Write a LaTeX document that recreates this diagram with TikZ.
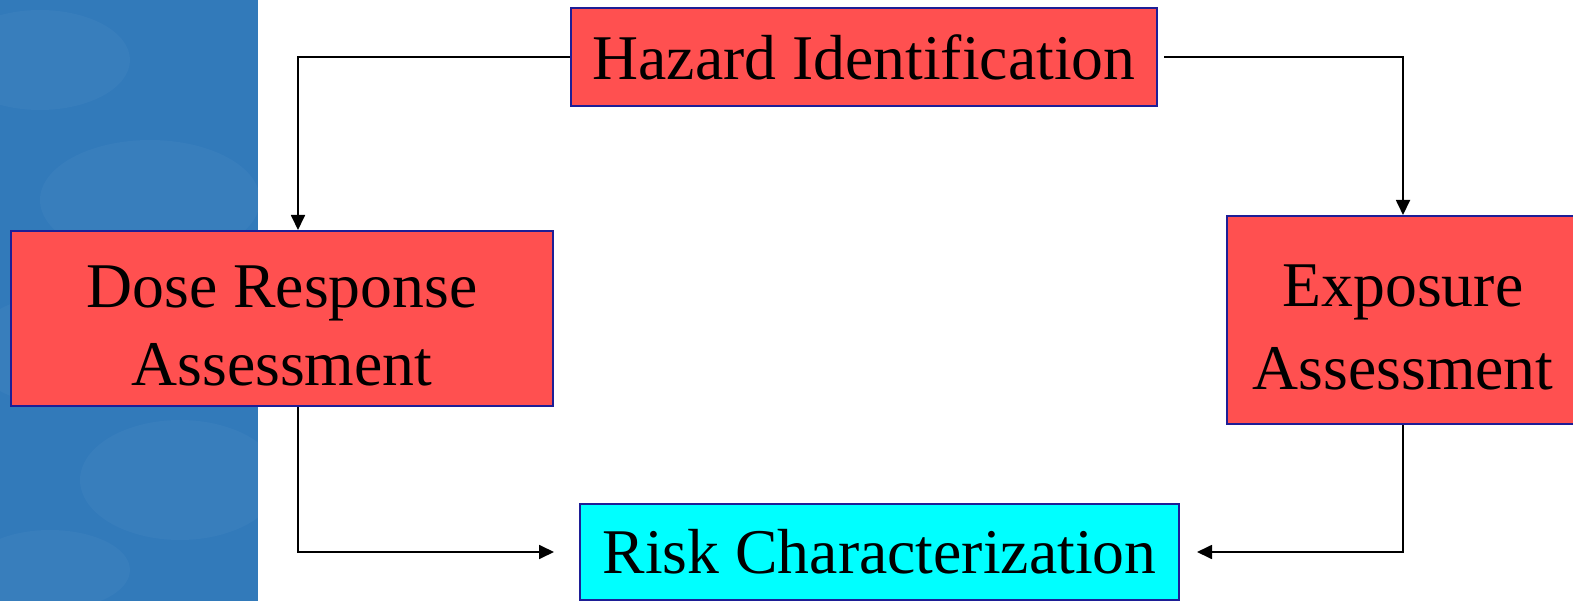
\documentclass[tikz,border=0pt]{standalone}
\usepackage{fontspec}
\setmainfont{Liberation Serif}
\usetikzlibrary{arrows.meta}
\definecolor{boxred}{RGB}{255,80,80}
\definecolor{boxcyan}{RGB}{0,255,255}
\definecolor{boxborder}{RGB}{30,30,150}
\definecolor{panelblue}{RGB}{50,122,186}
\definecolor{panellight}{RGB}{100,155,210}
\begin{document}
\begin{tikzpicture}[x=1pt,y=-1pt,
  box/.style={draw=boxborder, line width=2pt, inner sep=0pt, align=center,
    font=\fontsize{63.7}{78}\selectfont},
  redbox/.style={box, fill=boxred},
  cyanbox/.style={box, fill=boxcyan},
  conn/.style={line width=1.8pt, draw=black},
  arr/.style={conn, -{Triangle[length=15pt,width=14pt]}}]
\useasboundingbox (0,0) rectangle (1573,601);
\clip (0,0) rectangle (1573,601);
% background panel
\fill[panelblue] (0,0) rectangle (258,601);
\begin{scope}
  \clip (0,0) rectangle (258,601);
  \begin{scope}[opacity=0.12]
    \fill[panellight] (40,60) ellipse (90pt and 50pt);
    \fill[panellight] (150,200) ellipse (110pt and 60pt);
    \fill[panellight] (60,350) ellipse (90pt and 55pt);
    \fill[panellight] (180,480) ellipse (100pt and 60pt);
    \fill[panellight] (50,570) ellipse (80pt and 40pt);
  \end{scope}
\end{scope}
% boxes
\node[redbox, minimum width=586pt, minimum height=98pt] (H) at (864,57) {Hazard Identification};
\node[redbox, minimum width=542pt, minimum height=175pt] (D) at (282,318.5) {\rule{0pt}{56pt}Dose Response\\Assessment};
\node[redbox, minimum width=352pt, minimum height=208pt, font=\fontsize{63.7}{83}\selectfont] (E) at (1403,320) {\rule{0pt}{56pt}Exposure\\Assessment};
\node[cyanbox, minimum width=599pt, minimum height=96pt] (R) at (879.5,552) {Risk Characterization};
% bend coordinates
\coordinate (cl) at (298,56);
% connectors
\draw[arr] (H.west) -- (H.west -| cl) -- (D.north -| cl);
\draw[arr, shorten <=6pt] (H.east) -- (H.east -| E.north) -- (E.north);
\draw[arr, shorten >=25pt] (D.south -| cl) |- (R.west);
\draw[arr, shorten >=17pt] (E.south) |- (R.east);
\end{tikzpicture}
\end{document}
